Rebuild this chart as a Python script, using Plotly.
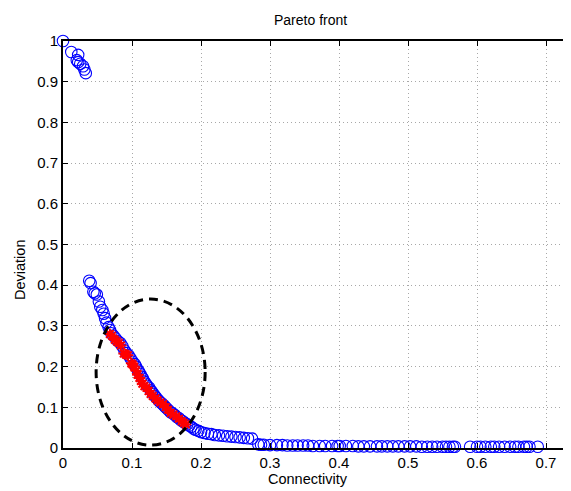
import plotly.graph_objects as go

# Blue open circles: all Pareto solutions
front_x = [0.000, 0.012, 0.022, 0.020, 0.022, 0.025, 0.029, 0.031, 0.033,
           0.038, 0.040, 0.044, 0.046, 0.049, 0.052, 0.054, 0.057, 0.059, 0.061,
           0.063, 0.066, 0.068, 0.070, 0.073, 0.076, 0.080, 0.083, 0.086, 0.089,
           0.092, 0.095, 0.098, 0.101, 0.104, 0.106, 0.108, 0.110, 0.112, 0.114,
           0.116, 0.118, 0.120, 0.122, 0.125, 0.127, 0.129, 0.131, 0.133, 0.135,
           0.138, 0.140, 0.143, 0.146, 0.148, 0.150, 0.153, 0.156, 0.159, 0.162,
           0.165, 0.168, 0.171, 0.174, 0.177, 0.180, 0.183, 0.186, 0.189, 0.192,
           0.196, 0.200, 0.205, 0.210, 0.215, 0.220, 0.226, 0.232, 0.238, 0.244,
           0.250, 0.256, 0.262, 0.268, 0.274,
           0.283, 0.287, 0.291, 0.300, 0.310, 0.318, 0.325, 0.333, 0.340, 0.348,
           0.355, 0.362, 0.372, 0.380, 0.390, 0.398, 0.401, 0.410, 0.420, 0.428,
           0.436, 0.445, 0.455, 0.462, 0.470, 0.478, 0.486, 0.495, 0.503, 0.512,
           0.520, 0.528, 0.535, 0.542, 0.550, 0.555, 0.560, 0.565, 0.568, 0.590,
           0.600, 0.605, 0.612, 0.620, 0.625, 0.632, 0.640, 0.648, 0.655, 0.660,
           0.668, 0.672, 0.676, 0.688]
front_y = [1.000, 0.973, 0.966, 0.953, 0.948, 0.944, 0.938, 0.930, 0.921,
           0.411, 0.405, 0.384, 0.380, 0.377, 0.360, 0.347, 0.339, 0.330, 0.319,
           0.308, 0.297, 0.290, 0.282, 0.276, 0.270, 0.262, 0.258, 0.250, 0.240,
           0.233, 0.228, 0.220, 0.212, 0.206, 0.200, 0.193, 0.188, 0.182, 0.175,
           0.170, 0.163, 0.158, 0.153, 0.148, 0.142, 0.138, 0.133, 0.128, 0.124,
           0.118, 0.114, 0.110, 0.105, 0.101, 0.098, 0.093, 0.088, 0.085, 0.081,
           0.076, 0.073, 0.068, 0.065, 0.061, 0.058, 0.055, 0.052, 0.048, 0.045,
           0.042, 0.039, 0.037, 0.035, 0.034, 0.032, 0.031, 0.030, 0.029, 0.028,
           0.027, 0.026, 0.025, 0.024, 0.023,
           0.009, 0.008, 0.008, 0.007, 0.007, 0.007, 0.006, 0.006, 0.006, 0.006,
           0.006, 0.005, 0.005, 0.005, 0.005, 0.005, 0.005, 0.005, 0.005, 0.004,
           0.004, 0.004, 0.004, 0.004, 0.004, 0.004, 0.004, 0.004, 0.004, 0.004,
           0.003, 0.003, 0.003, 0.003, 0.003, 0.003, 0.003, 0.003, 0.003, 0.003,
           0.003, 0.003, 0.003, 0.003, 0.003, 0.003, 0.003, 0.003, 0.003, 0.003,
           0.003, 0.003, 0.003, 0.003]

# Red asterisks: selected solutions
sel_x = [0.068, 0.071, 0.075, 0.078, 0.081, 0.084, 0.088, 0.091, 0.094, 0.099,
         0.101, 0.103, 0.106, 0.108, 0.111, 0.113, 0.115, 0.118, 0.121, 0.124,
         0.127, 0.130, 0.134, 0.137, 0.141, 0.145, 0.149, 0.152, 0.156, 0.160,
         0.164, 0.168, 0.172, 0.175, 0.178]
sel_y = [0.280, 0.276, 0.266, 0.262, 0.258, 0.252, 0.232, 0.230, 0.228, 0.208,
         0.205, 0.200, 0.190, 0.180, 0.172, 0.165, 0.158, 0.152, 0.148, 0.140,
         0.133, 0.128, 0.122, 0.117, 0.112, 0.108, 0.100, 0.094, 0.086, 0.082,
         0.078, 0.072, 0.066, 0.062, 0.058]

# Highlight ellipse bounds (data units)
ell_x = [0.048, 0.206]
ell_y = [0.007, 0.366]

x_ticks = [0, 0.1, 0.2, 0.3, 0.4, 0.5, 0.6, 0.7]
x_tick_text = ["0", "0.1", "0.2", "0.3", "0.4", "0.5", "0.6", "0.7"]
y_ticks = [0, 0.1, 0.2, 0.3, 0.4, 0.5, 0.6, 0.7, 0.8, 0.9, 1.0]
y_tick_text = ["0", "0.1", "0.2", "0.3", "0.4", "0.5", "0.6", "0.7", "0.8", "0.9", "1"]

FONT = "Liberation Sans, Arial, Helvetica, sans-serif"

# page body has an 8px margin: plot area spans window x 63..571, y 41..448
L, T, B = 55, 33, 43
W, H = 563, 483
PW = W - L
PH = H - T - B

fig = go.Figure()
fig.add_trace(go.Scatter(
    x=front_x, y=front_y, mode="markers",
    marker=dict(symbol="circle-open", size=11.5, color="#0000ff",
                line=dict(width=1.1, color="#0000ff")),
    showlegend=False, cliponaxis=False))
fig.add_trace(go.Scatter(
    x=sel_x, y=sel_y, mode="markers",
    marker=dict(symbol="asterisk-open", size=9, color="#ff0000",
                line=dict(width=2, color="#ff0000")),
    showlegend=False))

fig.add_shape(type="circle", xref="x", yref="y",
              x0=ell_x[0], x1=ell_x[1], y0=ell_y[0], y1=ell_y[1],
              line=dict(color="black", width=3, dash="9px,6px"))

axis_common = dict(showline=True, linecolor="black", linewidth=2,
                   ticks="inside", ticklen=5, tickcolor="black", tickwidth=1,
                   showgrid=True, gridcolor="#a8a8a8", griddash="1px,3px", gridwidth=1,
                   zeroline=False, tickfont=dict(family=FONT, size=15, color="black"))

fig.update_xaxes(range=[0, 0.7362], tickvals=x_ticks, ticktext=x_tick_text,
                 mirror="ticks", automargin=False, ticklabelstandoff=0, **axis_common)
fig.update_yaxes(range=[0, 1.0], tickvals=y_ticks, ticktext=y_tick_text,
                 mirror=False, automargin=False, **axis_common)

fig.add_annotation(text="Pareto front", xref="paper", yref="paper",
                   x=(302 - L) / PW, y=1, yshift=21, xanchor="center", yanchor="middle",
                   showarrow=False, font=dict(family=FONT, size=14, color="black"))
fig.add_annotation(text="Connectivity", xref="paper", yref="paper",
                   x=(300 - L) / PW, y=0, yshift=-31, xanchor="center", yanchor="middle",
                   showarrow=False, font=dict(family=FONT, size=14.5, color="black"))
fig.add_annotation(text="Deviation", xref="paper", yref="paper",
                   x=0, xshift=-43, y=(PH - (270 - 41)) / PH, textangle=-90,
                   xanchor="center", yanchor="middle",
                   showarrow=False, font=dict(family=FONT, size=14.5, color="black"))

fig.update_layout(width=W, height=H,
                  margin=dict(l=L, r=0, t=T, b=B),
                  paper_bgcolor="white", plot_bgcolor="white")

fig.write_html("out.html")
